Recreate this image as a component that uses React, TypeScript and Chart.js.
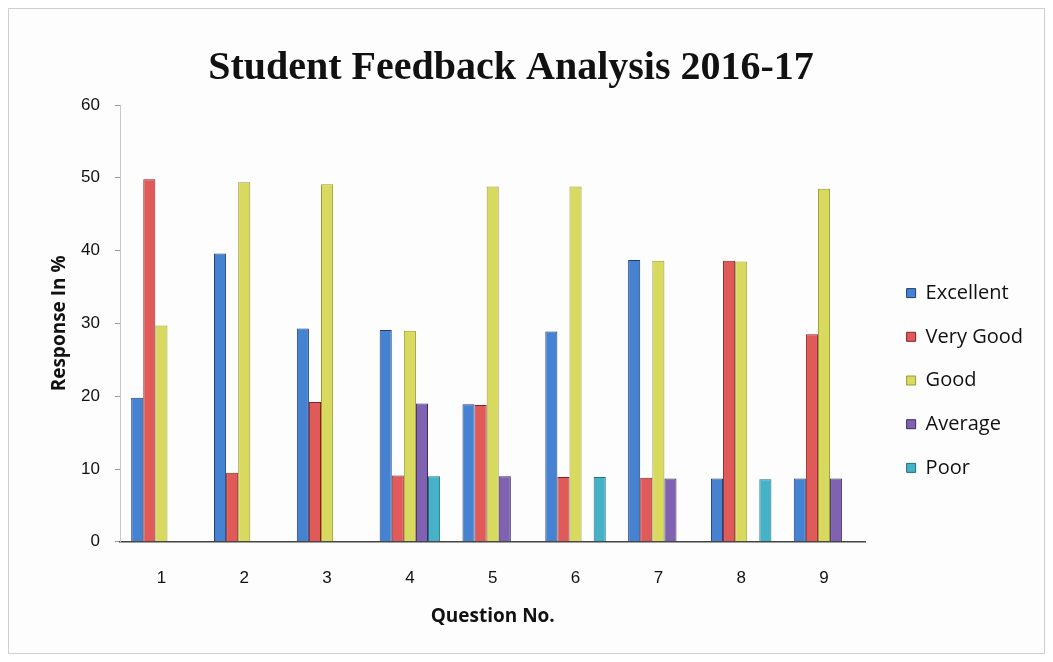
import React, { useEffect, useRef } from "react";
import { Chart, registerables } from "chart.js";

Chart.register(...registerables);

const questions = ["1", "2", "3", "4", "5", "6", "7", "8", "9"];
const excellent = [19.8, 39.6, 29.3, 29.1, 18.9, 28.9, 38.7, 8.7, 8.7];
const veryGood = [49.8, 9.5, 19.2, 9.1, 18.8, 8.9, 8.8, 38.6, 28.5];
const good = [29.7, 49.4, 49.1, 29.0, 48.8, 48.8, 38.6, 38.5, 48.5];
const average = [0, 0, 0, 19.0, 9.0, 0, 8.7, 0, 8.7];
const poor = [0, 0, 0, 9.0, 0, 8.9, 0, 8.6, 0];

const seriesNames = ["Excellent", "Very Good", "Good", "Average", "Poor"];
const fills = ["#4583d2", "#e05a5a", "#d8da60", "#7f62b0", "#45b2c8"];
const borders = ["#1f3f73", "#8a1f22", "#9a9a30", "#3c2a60", "#1f6f80"];

export default function App() {
  const ref = useRef<HTMLCanvasElement | null>(null);
  useEffect(() => {
    if (!ref.current) return;
    const values = [excellent, veryGood, good, average, poor];
    const chart = new Chart(ref.current, {
      type: "bar",
      data: {
        labels: questions,
        datasets: values.map((v, i) => ({
          label: seriesNames[i],
          data: v,
          backgroundColor: fills[i],
          borderColor: borders[i],
          borderWidth: 1,
          barPercentage: 1,
          categoryPercentage: 0.73,
          yAxisID: "y",
        })),
      },
      options: {
        animation: false,
        responsive: true,
        maintainAspectRatio: false,
        layout: { padding: { left: -20, right: 11, top: 0, bottom: 10 } },
        plugins: {
          title: {
            display: true,
            text: "Student Feedback Analysis 2016-17",
            color: "#111",
            font: { family: "Liberation Serif", size: 40, weight: "bold" },
            padding: { top: 36, bottom: 12 },
          },
          legend: {
            position: "right",
            align: "start",
            title: {
              display: true,
              text: " ",
              font: { size: 12 },
              padding: { top: 236, bottom: 0 },
            },
            labels: {
              boxWidth: 9,
              boxHeight: 9,
              padding: 23.7,
              color: "#111",
              font: { family: "Open Sans", size: 20 },
            },
          },
          tooltip: { enabled: false },
        },
        scales: {
          x: {
            grid: { display: true, drawOnChartArea: false, tickLength: 26, color: "rgba(0,0,0,0)" },
            border: { display: true, color: "#444", width: 1.5 },
            ticks: { color: "#111", padding: 0, font: { family: "Liberation Sans", size: 17 } },
            title: {
              display: true,
              text: "Question No.",
              color: "#111",
              font: { family: "Open Sans", size: 19, weight: "bold" },
              padding: { top: 17.4, bottom: 14.6 },
            },
          },
          y: {
            min: 0,
            max: 60,
            afterFit: (s: any) => {
              s.width = 131;
            },
            ticks: { stepSize: 10, color: "#111", padding: 15, font: { family: "Liberation Sans", size: 17 } },
            grid: { display: true, drawOnChartArea: false, tickLength: 5, color: "#999" },
            border: { display: true, color: "#c8c8c8", width: 1 },
            title: {
              display: true,
              text: "Response In %",
              color: "#111",
              font: { family: "Open Sans", size: 19, weight: "bold" },
              padding: { top: 59, bottom: 0 },
            },
          },
          spacer: {
            type: "linear",
            position: "right",
            display: true,
            afterFit: (s: any) => {
              s.width = 17.5;
            },
            grid: { display: false },
            border: { display: false },
            ticks: { display: false },
          },
        },
      },
    });
    return () => chart.destroy();
  }, []);
  return (
    <div style={{ width: 1035, height: 644, border: "1px solid #cfcfcf", background: "#fdfdfd" }}>
      <canvas ref={ref} />
    </div>
  );
}
